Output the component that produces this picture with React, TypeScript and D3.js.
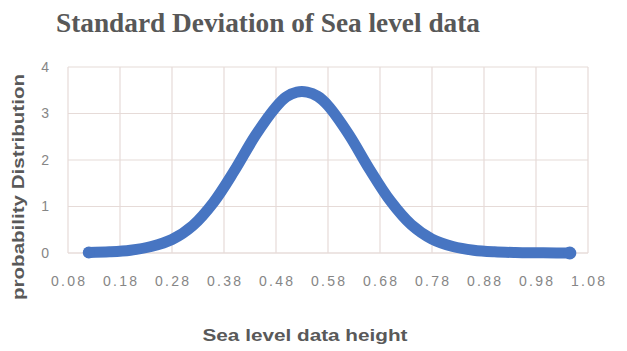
import React from "react";
import * as d3 from "d3";

// Sea level data height (x) and probability density (y) along the fitted curve
const seaLevel = [0.12, 0.16, 0.2, 0.24, 0.28, 0.32, 0.36, 0.4, 0.44, 0.48, 0.5, 0.52, 0.54, 0.56, 0.58, 0.62, 0.66, 0.7, 0.74, 0.78, 0.82, 0.86, 0.9, 0.94, 0.98, 1.02, 1.045];
const probability = [0.01, 0.025, 0.06, 0.14, 0.29, 0.59, 1.09, 1.77, 2.52, 3.14, 3.36, 3.46, 3.46, 3.37, 3.17, 2.55, 1.8, 1.12, 0.61, 0.3, 0.14, 0.06, 0.025, 0.01, 0.004, 0.001, 0];

const xTicks = [0.08, 0.18, 0.28, 0.38, 0.48, 0.58, 0.68, 0.78, 0.88, 0.98, 1.08];
const yTicks = [0, 1, 2, 3, 4];

const title = "Standard Deviation of Sea level data";
const xTitle = "Sea level data height";
const yTitle = "probability Distribution";

const W = 627;
const H = 351;

export default function App() {
  const x = d3.scaleLinear().domain([0.08, 1.08]).range([68, 588]);
  const y = d3.scaleLinear().domain([0, 4]).range([253, 67]);

  const points = seaLevel.map((v, i) => [v, probability[i]] as [number, number]);
  const line = d3
    .line<[number, number]>()
    .x((d) => x(d[0]))
    .y((d) => y(d[1]))
    .curve(d3.curveCatmullRom.alpha(0.5));

  const fmt = d3.format(".2f");
  const grid = "#e6dbd8";
  const tickColor = "#868686";
  const blue = "#4775c2";
  const first = points[0];
  const last = points[points.length - 1];

  return (
    <svg
      width={W}
      height={H}
      viewBox={`0 0 ${W} ${H}`}
      style={{ position: "absolute", left: 0, top: 0, background: "#ffffff" }}
    >
      <rect x={0} y={0} width={W} height={H} fill="#ffffff" />

      {/* title */}
      <text
        x={268}
        y={32}
        textAnchor="middle"
        fontFamily="'Liberation Serif', 'Times New Roman', serif"
        fontWeight="bold"
        fontSize={27}
        fill="#585858"
        textLength={424}
        lengthAdjust="spacingAndGlyphs"
      >
        {title}
      </text>

      {/* gridlines */}
      {yTicks.map((t) => (
        <line key={`gy${t}`} x1={x(0.08)} x2={x(1.08)} y1={y(t)} y2={y(t)} stroke={t === 0 ? "#dccbc7" : grid} strokeWidth={1.2} />
      ))}
      {xTicks.map((t) => (
        <line key={`gx${t}`} x1={x(t)} x2={x(t)} y1={y(0)} y2={y(4)} stroke={grid} strokeWidth={1.2} />
      ))}

      {/* y tick labels */}
      {yTicks.map((t) => (
        <text
          key={`yl${t}`}
          x={49}
          y={y(t)}
          dy="0.35em"
          textAnchor="end"
          fontFamily="'Liberation Sans', Arial, sans-serif"
          fontSize={14}
          fill={tickColor}
        >
          {t}
        </text>
      ))}

      {/* x tick labels */}
      {xTicks.map((t) => (
        <text
          key={`xl${t}`}
          x={x(t)}
          y={286}
          textAnchor="middle"
          fontFamily="'Liberation Sans', Arial, sans-serif"
          fontSize={14}
          fill={tickColor}
          textLength={34}
          lengthAdjust="spacing"
        >
          {fmt(t)}
        </text>
      ))}

      {/* distribution curve */}
      <path d={line(points) ?? ""} fill="none" stroke={blue} strokeWidth={11} strokeLinecap="round" strokeLinejoin="round" />
      <circle cx={x(first[0])} cy={y(first[1])} r={6} fill={blue} />
      <circle cx={x(last[0])} cy={y(last[1])} r={6.5} fill={blue} />

      {/* axis titles */}
      <text
        x={305}
        y={341}
        textAnchor="middle"
        fontFamily="'Liberation Sans', Arial, sans-serif"
        fontWeight="bold"
        fontSize={16}
        fill="#595959"
        textLength={205}
        lengthAdjust="spacingAndGlyphs"
      >
        {xTitle}
      </text>
      <text
        transform={`translate(24, 187) rotate(-90)`}
        textAnchor="middle"
        fontFamily="'Liberation Sans', Arial, sans-serif"
        fontWeight="bold"
        fontSize={16}
        fill="#595959"
        textLength={226}
        lengthAdjust="spacingAndGlyphs"
      >
        {yTitle}
      </text>
    </svg>
  );
}
